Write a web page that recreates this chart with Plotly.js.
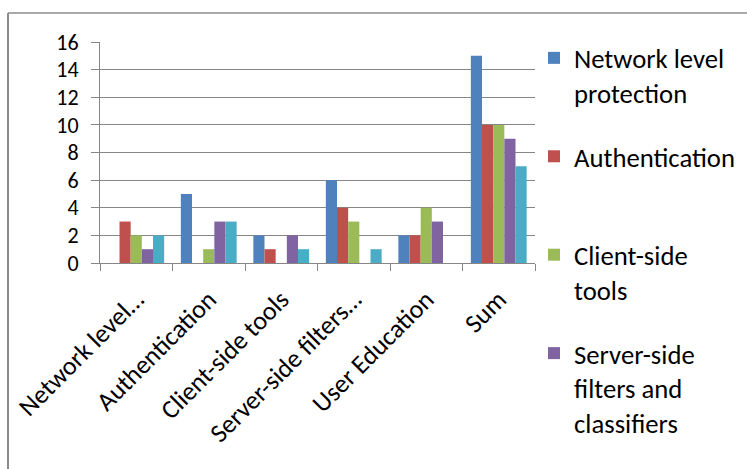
<!DOCTYPE html>
<html>
<head>
<meta charset="utf-8">
<script src="https://cdn.plot.ly/plotly-3.0.1.min.js"></script>
<style>
  html, body { margin: 0; padding: 0; background: #ffffff; }
  #chart { width: 747px; height: 469px; }
</style>
</head>
<body>
<div id="chart"></div>
<script>
const categories = ["Network level…", "Authentication", "Client-side tools", "Server-side filters…", "User Education", "Sum"];
const seriesNames = ["Network level protection", "Authentication", "Client-side tools", "Server-side filters and classifiers", "User Education"];
const legendLabels = ["Network level<br>protection", "Authentication<br> ", "Client-side<br>tools", "Server-side<br>filters and<br>classifiers", "User Education"];
const networkLevel = [0, 5, 2, 6, 2, 15];
const authentication = [3, 0, 1, 4, 2, 10];
const clientSide = [2, 1, 0, 3, 4, 10];
const serverSide = [1, 3, 2, 0, 3, 9];
const userEducation = [2, 3, 1, 1, 0, 7];
const yTicks = [0, 2, 4, 6, 8, 10, 12, 14, 16];

const seriesValues = [networkLevel, authentication, clientSide, serverSide, userEducation];
const colors = ["#4F81BD", "#C0504D", "#9BBB59", "#8064A2", "#4BACC6"];

const FONT = "Carlito, Calibri, Lato, 'Noto Sans', sans-serif";
const FS = 26.7;
const GRID = "#868686";

const traces = seriesValues.map((vals, i) => ({
  type: "bar",
  x: categories,
  y: vals,
  name: legendLabels[i],
  legendgroup: "g" + i,
  showlegend: i < 4,
  marker: { color: colors[i], line: { width: 0 } },
  hovertemplate: seriesNames[i] + ": %{y}<extra></extra>"
}));

const L = 100, R = 212, T = 42, B = 206;
const W = 747 - L - R, H = 469 - T - B;
const px = v => (v - L) / W;
const py = v => (469 - B - v) / H;

const layout = {
  width: 747,
  height: 469,
  margin: { l: L, r: R, t: T, b: B, pad: 0, autoexpand: false },
  paper_bgcolor: "#ffffff",
  plot_bgcolor: "#ffffff",
  font: { family: FONT, size: FS, color: "#000000" },
  barmode: "group",
  bargap: 0.23,
  bargroupgap: 0,
  xaxis: {
    type: "category",
    tickangle: -45,
    showgrid: false,
    showline: true,
    linecolor: GRID,
    linewidth: 1,
    ticks: "outside",
    tickson: "boundaries",
    ticklen: 7,
    tickcolor: GRID,
    ticklabelstandoff: 10,
    tickfont: { family: FONT, size: 26, color: "#000000" },
    automargin: false
  },
  yaxis: {
    range: [0, 16],
    tickvals: yTicks,
    showgrid: true,
    gridcolor: GRID,
    gridwidth: 1,
    showline: true,
    linecolor: GRID,
    linewidth: 1,
    ticks: "outside",
    ticklen: 8,
    tickcolor: GRID,
    ticklabelstandoff: 8,
    zeroline: false,
    tickfont: { family: FONT, size: 22, color: "#000000" },
    automargin: false
  },
  legend: {
    x: px(534),
    xanchor: "left",
    y: py(34),
    yanchor: "top",
    valign: "top",
    tracegroupgap: 26,
    itemwidth: 30,
    maxheight: 1000,
    bgcolor: "rgba(0,0,0,0)",
    font: { family: FONT, size: FS, color: "#000000" }
  },
  shapes: [
    { type: "line", xref: "paper", yref: "paper", x0: px(8), x1: px(8), y0: py(13), y1: py(475), line: { color: "#8c8c8c", width: 2 } },
    { type: "line", xref: "paper", yref: "paper", x0: px(8), x1: px(760), y0: py(13), y1: py(13), line: { color: "#8c8c8c", width: 1.5 } }
  ],
  showlegend: true
};

Plotly.newPlot("chart", traces, layout, { displayModeBar: false, staticPlot: true });
</script>
</body>
</html>
